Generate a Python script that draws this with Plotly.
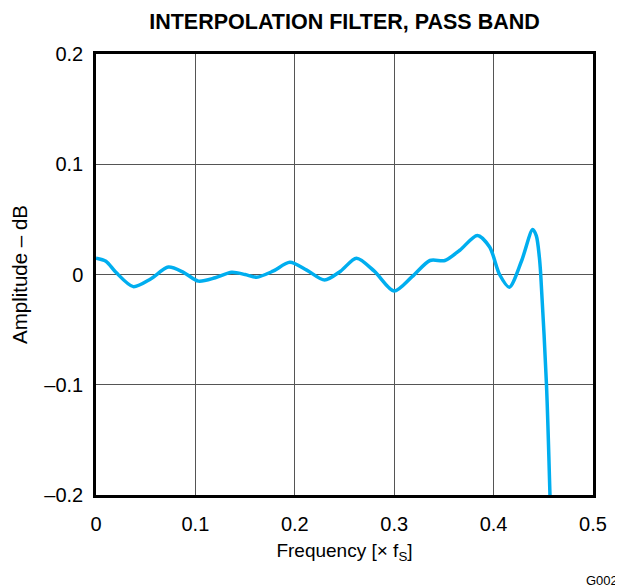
import plotly.graph_objects as go

freq = [0.000, 0.010, 0.020, 0.0375, 0.055, 0.0728, 0.088, 0.103, 0.120, 0.1365,
        0.150, 0.1616, 0.178, 0.195, 0.212, 0.230, 0.246, 0.262, 0.280, 0.2998,
        0.318, 0.336, 0.351, 0.366, 0.3836, 0.396, 0.406, 0.4158, 0.428, 0.4393,
        0.443, 0.446, 0.4474, 0.4532, 0.4567]
amp = [0.0148, 0.012, 0.002, -0.011, -0.004, 0.0067, 0.002, -0.006, -0.003, 0.002,
       0.000, -0.0024, 0.003, 0.011, 0.004, -0.005, 0.003, 0.0148, 0.003, -0.015,
       -0.002, 0.0127, 0.0127, 0.022, 0.0354, 0.025, 0.000, -0.0115, 0.012, 0.0408,
       0.035, 0.016, 0.000, -0.100, -0.200]

x_ticks = [0, 0.1, 0.2, 0.3, 0.4, 0.5]
x_ticktext = ["0", "0.1", "0.2", "0.3", "0.4", "0.5"]
y_ticks = [-0.2, -0.1, 0, 0.1, 0.2]
y_ticktext = ["\u20130.2", "\u20130.1", "0", "0.1", "0.2"]

font_family = "Liberation Sans, Arial, sans-serif"

# page body has an 8px margin, so the figure is drawn 8px smaller
W, H = 615, 579
L, R, T, B = 88, 30, 46, 92
PW, PH = W - L - R, H - T - B

fig = go.Figure()
fig.add_trace(go.Scatter(
    x=freq, y=amp, mode="lines",
    line=dict(color="#00AEEF", width=3.5, shape="spline", smoothing=0.8),
    hoverinfo="skip", cliponaxis=True,
))

fig.update_layout(
    width=W, height=H,
    margin=dict(l=L, r=R, t=T, b=B, autoexpand=False),
    paper_bgcolor="white", plot_bgcolor="white",
    showlegend=False,
    font=dict(family=font_family, size=20, color="black"),
    title=dict(text="<b>INTERPOLATION FILTER, PASS BAND</b>",
               x=(L + PW / 2) / W, xanchor="center",
               y=1 - 13 / H, yanchor="middle",
               font=dict(family=font_family, size=21.5, color="black")),
    xaxis=dict(range=[0, 0.5], tickvals=x_ticks, ticktext=x_ticktext,
               showgrid=True, gridcolor="#555555", gridwidth=1,
               showline=True, linecolor="black", linewidth=2.5, mirror=True,
               ticks="", ticklabelstandoff=9, zeroline=False, automargin=False,
               tickfont=dict(size=20),
               title=dict(text="Frequency [\u00d7 f<sub>S</sub>]", standoff=10,
                          font=dict(size=19))),
    yaxis=dict(range=[-0.2, 0.2], tickvals=y_ticks, ticktext=y_ticktext,
               showgrid=True, gridcolor="#555555", gridwidth=1,
               showline=True, linecolor="black", linewidth=2.5, mirror=True,
               ticks="", ticklabelstandoff=6, zeroline=False, automargin=False,
               tickfont=dict(size=20),
               title=dict(text="Amplitude \u2013 dB", standoff=12,
                          font=dict(size=20.5))),
)

fig.add_annotation(text="G002", xref="paper", xanchor="right",
                   x=(W - 3 - L) / PW, yref="paper", yanchor="middle",
                   y=-(572 - T - PH) / PH,
                   showarrow=False,
                   font=dict(family=font_family, size=13, color="black"))

fig.write_html("out.html")
